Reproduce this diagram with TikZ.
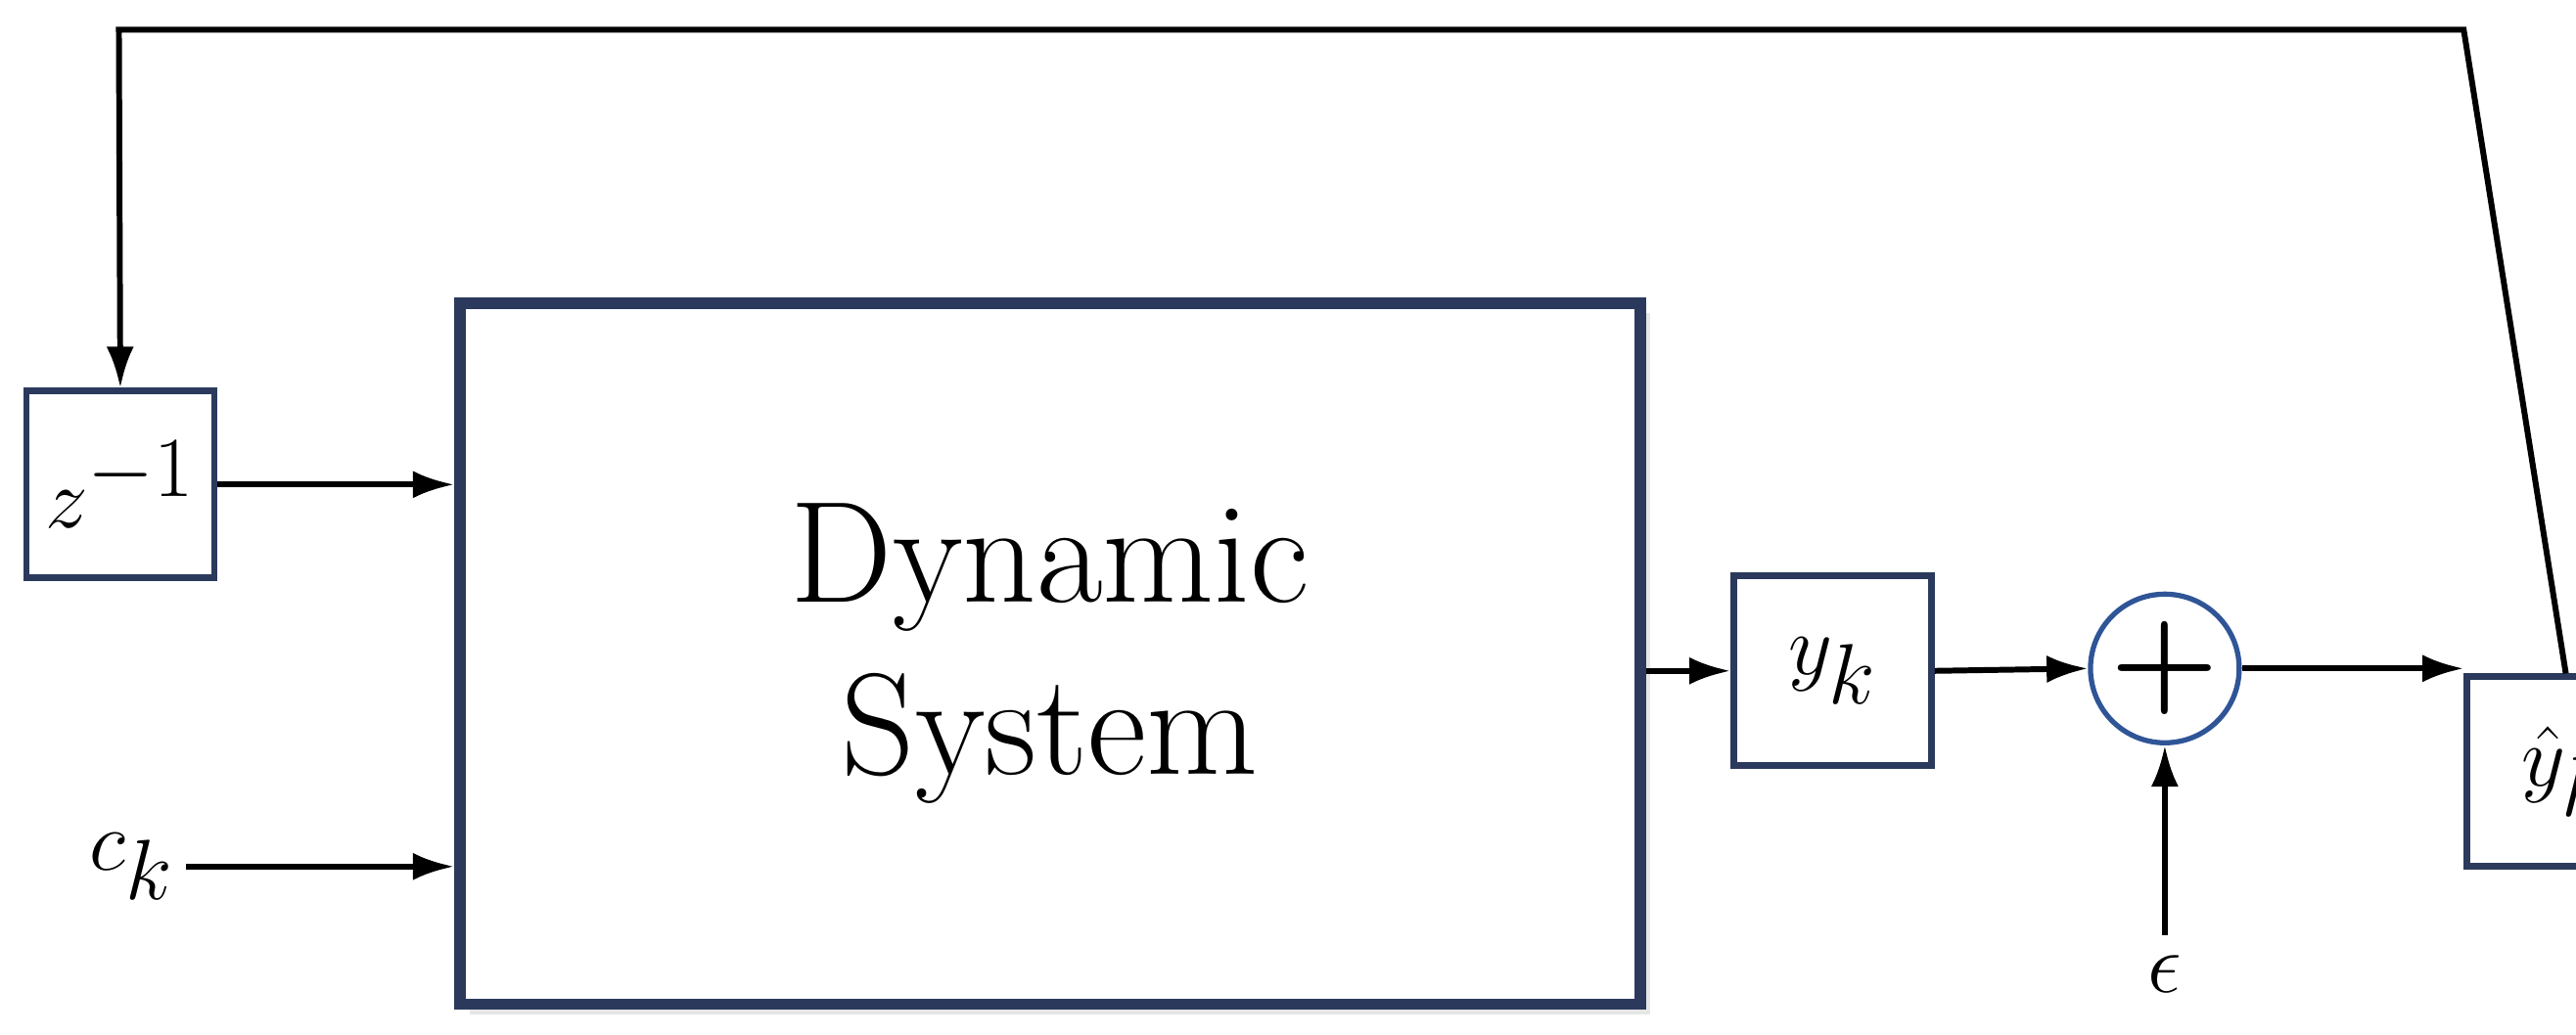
\documentclass[tikz,border=0pt]{standalone}
\usetikzlibrary{arrows.meta,shadows}
\definecolor{navy}{HTML}{2B3A5C}
\definecolor{cblue}{HTML}{2F5597}
\begin{document}
\begin{tikzpicture}[x=0.01687cm,y=-0.01687cm,
  sbox/.style={draw=navy,line width=1.9pt,fill=white,inner sep=0pt},
  conn/.style={line width=1.7pt,-{Latex[length=12pt,width=8pt]}},
  lbl/.style={font=\fontsize{42}{46}\selectfont}]
\useasboundingbox (0,0) rectangle (1560,627);
\node[sbox,line width=3.4pt,anchor=north west,
  drop shadow={opacity=0.2,shadow xshift=3pt,shadow yshift=-3pt},
  minimum width=12.06cm,minimum height=7.17cm,
  font=\fontsize{42}{50}\selectfont,align=center] (sys) at (275,180) {Dynamic\\System};
\node[sbox,minimum width=1.92cm,minimum height=1.91cm,anchor=north west,lbl] (z) at (14,235) {$z^{-1}$};
\node[sbox,minimum width=2.02cm,minimum height=1.94cm,anchor=north west,lbl] (y) at (1048,347) {$y_k$};
\node[draw=cblue,line width=1.5pt,circle,minimum size=1.52cm,inner sep=0pt,font=\fontsize{36}{40}\selectfont\bfseries] (s) at (1311,405) {+};
\node[sbox,minimum width=2.02cm,minimum height=1.94cm,anchor=north west,lbl] (yh) at (1492,408) {$\hat{y}_k$};
\node[lbl] (c) at (80,525) {$c_k$};
\node[lbl] (e) at (1311,590) {$\epsilon$};
\coordinate (t1) at (1492,18);
\coordinate (t2) at (72,18);
\draw[conn] (yh.north) -- (t1) -- (t2) -- (z.north);
\draw[conn] (z.east) -- (sys.west |- z.east);
\draw[conn] (c.east) -- (sys.west |- c.east);
\draw[conn] (sys.east |- y.west) -- (y.west);
\draw[conn] (y.east) -- (s.west);
\draw[conn] (s.east) -- (yh.west |- s.east);
\draw[conn] (e.north) ++(0,-5) -- (s.south);
\end{tikzpicture}
\end{document}
